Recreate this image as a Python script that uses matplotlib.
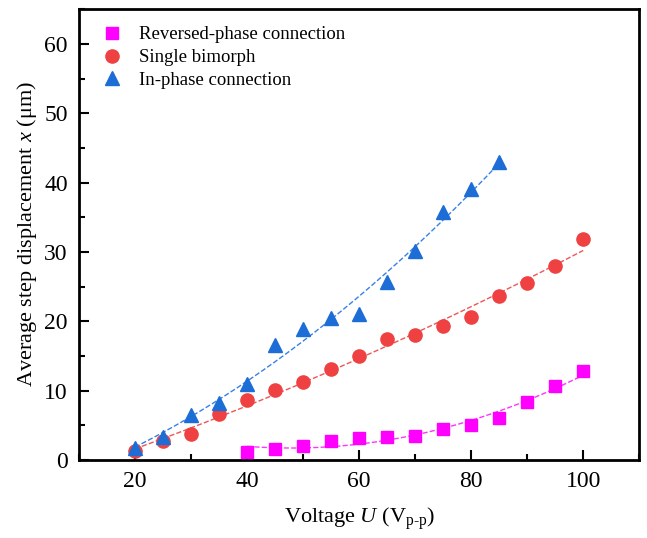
import matplotlib
matplotlib.use('Agg')
import matplotlib.pyplot as plt
import numpy as np
from matplotlib.ticker import MultipleLocator

plt.rcParams['font.family'] = ['Liberation Serif', 'DejaVu Serif']
plt.rcParams['mathtext.fontset'] = 'custom'
plt.rcParams['mathtext.rm'] = 'Liberation Serif'
plt.rcParams['mathtext.it'] = 'Liberation Serif:italic'

# measured step displacement (um) vs driving voltage (Vp-p)
u_rev = [40, 45, 50, 55, 60, 65, 70, 75, 80, 85, 90, 95, 100]
x_rev = [1.2, 1.6, 2.0, 2.7, 3.1, 3.3, 3.4, 4.4, 5.0, 6.0, 8.3, 10.7, 12.9]

u_single = [20, 25, 30, 35, 40, 45, 50, 55, 60, 65, 70, 75, 80, 85, 90, 95, 100]
x_single = [1.3, 2.8, 3.8, 6.6, 8.6, 10.1, 11.3, 13.1, 15.0, 17.4, 18.0, 19.3,
            20.6, 23.7, 25.5, 28.0, 31.8]

u_in = [20, 25, 30, 35, 40, 45, 50, 55, 60, 65, 70, 75, 80, 85]
x_in = [1.8, 3.3, 6.5, 8.2, 11.0, 16.6, 18.9, 20.5, 21.0, 25.6, 30.1, 35.7,
        39.0, 43.0]

labels = ['Reversed-phase connection', 'Single bimorph', 'In-phase connection']

fig = plt.figure(figsize=(6.47, 5.38), dpi=100)
ax = fig.add_axes([0.122, 0.145, 0.866, 0.838])

series = [
    (u_rev, x_rev, 's', '#FF00FF', '#FF33FF', 8, labels[0]),
    (u_single, x_single, 'o', '#EF4141', '#F05555', 9.5, labels[1]),
    (u_in, x_in, '^', '#1C6DD6', '#3A80E6', 10.5, labels[2]),
]

for u, x, mk, c, lc, ms, lab in series:
    ax.plot(u, x, mk, color=c, ms=ms, mec=c, label=lab, zorder=3)
    # quadratic fit shown as dashed curve
    p = np.polyfit(u, x, 2)
    uu = np.linspace(min(u), max(u), 200)
    ax.plot(uu, np.polyval(p, uu), '--', color=lc, lw=1.0, zorder=2)

ax.set_xlim(10, 110)
ax.set_ylim(0, 65)
ax.xaxis.set_major_locator(MultipleLocator(20))
ax.xaxis.set_minor_locator(MultipleLocator(10))
ax.yaxis.set_major_locator(MultipleLocator(10))
ax.yaxis.set_minor_locator(MultipleLocator(5))
ax.tick_params(which='both', direction='in', width=1.5, labelsize=17, pad=8)
ax.tick_params(which='major', length=7)
ax.tick_params(which='minor', length=4)
for s in ax.spines.values():
    s.set_linewidth(2)

ax.set_xlabel(r'Voltage $U$ (V$_{\rm p\text{-}p}$)', fontsize=16, labelpad=10)
ax.set_ylabel(r'Average step displacement $x$ ($\mathrm{\mu}$m)', fontsize=16,
              labelpad=4)

ax.legend(loc='upper left', frameon=False, fontsize=13.5, handlelength=1.7,
          handletextpad=0.6, labelspacing=0.31, borderaxespad=0.5)

fig.savefig('out.png', dpi=100)
